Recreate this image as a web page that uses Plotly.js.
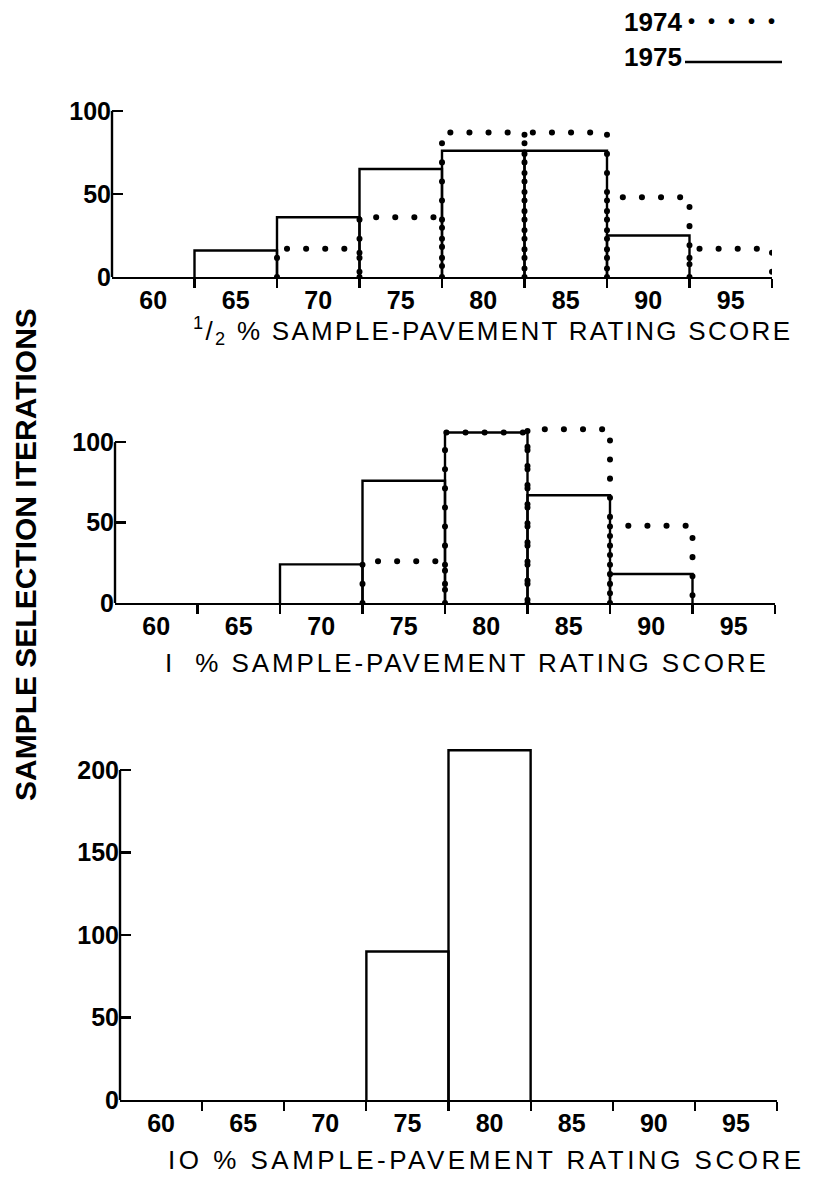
<!DOCTYPE html>
<html>
<head>
<meta charset="utf-8">
<script src="https://cdn.plot.ly/plotly-3.0.1.min.js"></script>
<style>
html,body{margin:0;padding:0;background:#fff;}
#chart{width:825px;height:1184px;}
path.js-line{stroke-linecap:round !important;}
</style>
</head>
<body>
<div id="chart"></div>
<script>
// Rating-score bins (centres) and tick labels
const bins = [60, 65, 70, 75, 80, 85, 90, 95];
const binLabels = ["60", "65", "70", "75", "80", "85", "90", "95"];
// 1/2 % sample
const half1974 = [0, 0, 17, 36, 87, 87, 48, 17];
const half1975 = [0, 16, 36, 65, 76, 76, 25, 0];
// 1 % sample
const one1974 = [0, 0, 0, 26, 106, 108, 48, 0];
const one1975 = [0, 0, 24, 76, 106, 67, 18, 0];
// 10 % sample
const ten1975 = [0, 0, 0, 90, 212, 0, 0, 0];

const W = 825, H = 1184;
const binW = bins[1] - bins[0];
const edges = bins.map(b => b + binW / 2);

function outline(vals) {
  const xs = [], ys = [];
  vals.forEach((v, i) => {
    if (v <= 0) return;
    const l = bins[i] - binW / 2, r = bins[i] + binW / 2;
    xs.push(l, l, r, r, null);
    ys.push(0, v, v, 0, null);
  });
  return {x: xs, y: ys};
}

function solid(vals, ax) {
  const o = outline(vals);
  return {type: 'scatter', mode: 'lines', x: o.x, y: o.y, xaxis: 'x' + ax, yaxis: 'y' + ax,
          line: {color: '#000', width: 2.4}, hoverinfo: 'skip', showlegend: false};
}
function dotted(vals, ax) {
  const o = outline(vals);
  return {type: 'scatter', mode: 'lines', x: o.x, y: o.y, xaxis: 'x' + ax, yaxis: 'y' + ax,
          line: {color: '#000', width: 6, dash: '0.1px,19px'}, hoverinfo: 'skip', showlegend: false};
}

const traces = [
  solid(half1975, ''), dotted(half1974, ''),
  solid(one1975, '2'), dotted(one1974, '2'),
  solid(ten1975, '3')
];

const font = {family: 'Liberation Sans, Arial, sans-serif', color: '#000'};
function px(a, b) { return [a / W, b / W]; }
function py(bottom, top) { return [1 - bottom / H, 1 - top / H]; }

function xax(dom, anchor) {
  return {domain: dom, anchor: anchor, range: [bins[0] - binW / 2, bins[bins.length - 1] + binW / 2],
          tickmode: 'array', tickvals: bins, ticktext: binLabels, ticks: '',
          showline: true, linecolor: '#000', linewidth: 2.4, showgrid: false, zeroline: false,
          tickfont: Object.assign({size: 25, weight: 'bold'}, font), fixedrange: true,
          minor: {tickmode: 'array', tickvals: edges, ticks: 'outside', ticklen: 9, tickwidth: 2.2, tickcolor: '#000'}};
}
function yax(dom, anchor, top, vals) {
  return {domain: dom, anchor: anchor, range: [0, top], tickmode: 'array', tickvals: vals,
          ticktext: vals.map(String), ticks: 'inside', ticklen: 11, tickwidth: 2.4, tickcolor: '#000',
          showline: false, showgrid: false, zeroline: false, fixedrange: true,
          tickfont: Object.assign({size: 25, weight: 'bold'}, font)};
}

function spaced(txt, sp) { return '<span style="letter-spacing:' + sp + 'px">' + txt + '</span>'; }

const layout = {
  width: W, height: H, margin: {l: 0, r: 0, t: 0, b: 0},
  paper_bgcolor: '#fff', plot_bgcolor: '#fff', showlegend: false,
  xaxis: xax(px(112, 772), 'y'),
  yaxis: yax(py(277, 86), 'x', 115, [0, 50, 100]),
  xaxis2: xax(px(115, 775), 'y2'),
  yaxis2: yax(py(603, 418), 'x2', 115, [0, 50, 100]),
  xaxis3: xax(px(120, 777), 'y3'),
  yaxis3: yax(py(1100, 720.5), 'x3', 230, [0, 50, 100, 150, 200]),
  shapes: [
    {type: 'line', xref: 'x domain', yref: 'y', x0: 0, x1: 0, y0: 0, y1: 100, line: {color: '#000', width: 2.4}},
    {type: 'line', xref: 'x2 domain', yref: 'y2', x0: 0, x1: 0, y0: 0, y1: 100, line: {color: '#000', width: 2.4}},
    {type: 'line', xref: 'x3 domain', yref: 'y3', x0: 0, x1: 0, y0: 0, y1: 200, line: {color: '#000', width: 2.4}},
    {type: 'line', xref: 'paper', yref: 'paper', x0: 685 / W, x1: 782 / W, y0: 1 - 62 / H, y1: 1 - 62 / H, line: {color: '#000', width: 2.6}}
  ],
  annotations: [
    {text: spaced('<sup>1</sup>/<sub>2</sub> % SAMPLE-PAVEMENT RATING SCORE', 2.3), xref: 'paper', yref: 'paper',
     x: 493 / W, y: 1 - 331 / H, xanchor: 'center', yanchor: 'middle', showarrow: false,
     font: Object.assign({size: 26}, font)},
    {text: spaced('I  % SAMPLE-PAVEMENT RATING SCORE', 2.9), xref: 'paper', yref: 'paper',
     x: 467 / W, y: 1 - 663 / H, xanchor: 'center', yanchor: 'middle', showarrow: false,
     font: Object.assign({size: 26}, font)},
    {text: spaced('IO % SAMPLE-PAVEMENT RATING SCORE', 3.5), xref: 'paper', yref: 'paper',
     x: 486 / W, y: 1 - 1160 / H, xanchor: 'center', yanchor: 'middle', showarrow: false,
     font: Object.assign({size: 26}, font)},
    {text: '<b>SAMPLE SELECTION ITERATIONS</b>', xref: 'paper', yref: 'paper', textangle: -90,
     x: 25 / W, y: 1 - 555 / H, xanchor: 'center', yanchor: 'middle', showarrow: false,
     font: Object.assign({size: 30}, font)},
    {text: '<b>1974</b>', xref: 'paper', yref: 'paper', x: 622 / W, y: 1 - 22 / H,
     xanchor: 'left', yanchor: 'middle', showarrow: false, font: Object.assign({size: 26}, font)},
    {text: spaced('<b>•••••</b>', 13), xref: 'paper', yref: 'paper', x: 686 / W, y: 1 - 21 / H,
     xanchor: 'left', yanchor: 'middle', showarrow: false, font: Object.assign({size: 20}, font)},
    {text: '<b>1975</b>', xref: 'paper', yref: 'paper', x: 622 / W, y: 1 - 57 / H,
     xanchor: 'left', yanchor: 'middle', showarrow: false, font: Object.assign({size: 26}, font)}
  ]
};

Plotly.newPlot('chart', traces, layout, {staticPlot: true, displayModeBar: false});
</script>
</body>
</html>
